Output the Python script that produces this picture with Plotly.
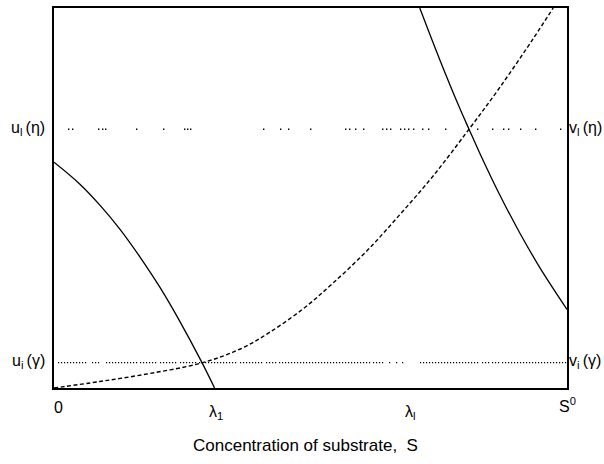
import plotly.graph_objects as go

# ---- data (x in units where S0 = 10; y arbitrary units, 0..10) ----
u_curve_x = [0.0, 0.50, 0.89, 1.28, 1.67, 2.06, 2.45, 2.88, 3.13]
u_curve_y = [5.94, 5.37, 4.82, 4.19, 3.46, 2.66, 1.76, 0.68, 0.0]

v_curve_x = [7.13, 7.52, 7.91, 8.09, 8.30, 8.69, 9.08, 9.47, 10.0]
v_curve_y = [10.0, 8.64, 7.36, 6.81, 6.18, 5.08, 4.08, 3.17, 2.07]

dashed_x = [0.0, 0.89, 1.86, 2.88, 3.62, 4.21, 4.89, 5.43, 6.10, 6.74, 7.39, 8.09, 8.69, 9.34, 9.73]
dashed_y = [0.0, 0.17, 0.38, 0.66, 1.02, 1.47, 2.12, 2.75, 3.61, 4.56, 5.58, 6.81, 7.91, 9.19, 10.0]

level_x = [0.0, 10.0]
eta_level = 6.81
gamma_level = 0.67

x_tick_vals = [0.08, 3.16, 6.94, 10.0]
x_tick_text = ["0", "λ<sub>1</sub>", "λ<sub>l</sub>", "S<sup>0</sup>"]

left_labels = ["u<sub>l</sub>\u2009(η)", "u<sub>i</sub>\u2009(γ)"]
right_labels = ["v<sub>l</sub>\u2009(η)", "v<sub>i</sub>\u2009(γ)"]
x_title = "Concentration of substrate,\u00a0 S"

# ---- styling ----
tick_yshifts = [-19, -24, -24, -17]

PLOT_LEFT = 54
eta_dots = [68, 72, 98, 102, 105, 136, 163, 184, 187, 190, 263, 280, 288, 310,
            345, 349, 355, 363, 382, 386, 390, 400, 404, 408, 413, 422, 428,
            445, 477, 492, 503, 508, 520, 535, 560]
gamma_segments = [(58, 86), (92, 100), (106, 136), (140, 156), (160, 176), (180, 196),
                  (199, 236), (240, 262), (266, 275), (279, 370), (373, 383),
                  (389, 391), (396, 398), (402, 404), (420, 478), (482, 488),
                  (492, 498), (502, 566)]


def dash_from(positions, on=1.4):
    parts = ["0px"]
    cur = PLOT_LEFT
    for p in sorted(positions):
        gap = max(p - cur, 0.5)
        parts += [f"{gap:.1f}px", f"{on:.1f}px"]
        cur = p + on
    parts.append("1000px")
    return ",".join(parts)


gamma_dots = []
for a, b in gamma_segments:
    p = a
    while p <= b:
        gamma_dots.append(p)
        p += 3

fig = go.Figure()

fig.add_trace(go.Scatter(x=level_x, y=[eta_level, eta_level], mode="lines",
                         line=dict(color="black", width=1.4, dash=dash_from(eta_dots)),
                         hoverinfo="skip"))
fig.add_trace(go.Scatter(x=level_x, y=[gamma_level, gamma_level], mode="lines",
                         line=dict(color="black", width=1.2, dash=dash_from(gamma_dots, on=1.2)),
                         hoverinfo="skip"))
fig.add_trace(go.Scatter(x=dashed_x, y=dashed_y, mode="lines",
                         line=dict(color="black", width=1.4, dash="4px,2.5px", shape="spline"),
                         hoverinfo="skip"))
fig.add_trace(go.Scatter(x=u_curve_x, y=u_curve_y, mode="lines",
                         line=dict(color="black", width=1.3, shape="spline"),
                         hoverinfo="skip"))
fig.add_trace(go.Scatter(x=v_curve_x, y=v_curve_y, mode="lines",
                         line=dict(color="black", width=1.3, shape="spline"),
                         hoverinfo="skip"))

font_main = "Liberation Sans, Arial, sans-serif"
annotations = []
for v, t, ys in zip(x_tick_vals, x_tick_text, tick_yshifts):
    annotations.append(dict(x=v, y=0, xref="x", yref="paper", text=t, showarrow=False,
                            xanchor="center", yanchor="middle", yshift=ys,
                            font=dict(size=16, color="black", family=font_main)))
for lvl, t in zip([eta_level, gamma_level], left_labels):
    annotations.append(dict(x=0, y=lvl, xref="paper", yref="y", text=t, showarrow=False,
                            xanchor="right", yanchor="middle", xshift=-7, yshift=1,
                            font=dict(size=16, color="black", family=font_main)))
for lvl, t in zip([eta_level, gamma_level], right_labels):
    annotations.append(dict(x=1, y=lvl, xref="paper", yref="y", text=t, showarrow=False,
                            xanchor="left", yanchor="middle", xshift=0, yshift=1,
                            font=dict(size=16, color="black", family=font_main)))
annotations.append(dict(x=0.49, y=0, xref="paper", yref="paper", text=x_title,
                        showarrow=False, xanchor="center", yanchor="middle", yshift=-57,
                        font=dict(size=17, color="black", family=font_main)))

axis_common = dict(showgrid=False, zeroline=False, showticklabels=False, ticks="",
                   showline=True, mirror=True, linecolor="black", linewidth=1.5,
                   fixedrange=True)
fig.update_layout(
    width=604, height=464,
    margin=dict(l=54, r=37, t=6, b=76),
    paper_bgcolor="white", plot_bgcolor="white",
    showlegend=False,
    xaxis=dict(range=[0, 10], **axis_common),
    yaxis=dict(range=[0, 10], **axis_common),
    annotations=annotations,
)

fig.write_html("out.html",
               config={"displayModeBar": False},
               post_script="document.body.style.margin='0';document.body.style.overflow='hidden';")
